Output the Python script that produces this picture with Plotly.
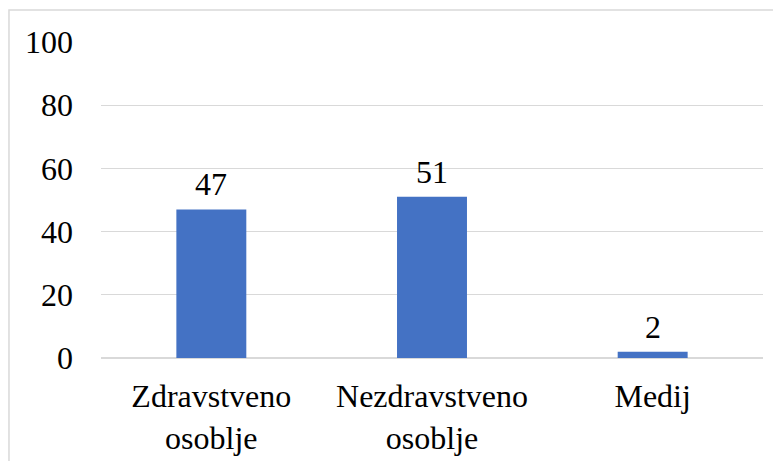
import plotly.graph_objects as go

# Chart data
categories = ["Zdravstveno<br>osoblje", "Nezdravstveno<br>osoblje", "Medij"]
values = [47, 51, 2]
y_ticks = [0, 20, 40, 60, 80, 100]

BAR_COLOR = "#4472C4"
GRID_COLOR = "#D9D9D9"
FONT = dict(family="Liberation Serif", size=32, color="black")

fig = go.Figure()

fig.add_trace(go.Bar(
    x=categories,
    y=values,
    marker=dict(color=BAR_COLOR, line=dict(width=0)),
    width=0.317,
    hoverinfo="x+y",
))

# value labels above the bars
for cat, val in zip(categories, values):
    fig.add_annotation(
        x=cat, y=val, text=str(val),
        showarrow=False, yanchor="bottom", yshift=5,
        font=FONT,
    )

# light chart-area border (cropped at right and bottom in the original)
fig.add_shape(
    type="rect", xref="paper", yref="paper",
    x0=-0.139, x1=2, y0=-2, y1=1.101,
    line=dict(color=GRID_COLOR, width=1.5),
    fillcolor="rgba(0,0,0,0)",
    layer="below",
)

fig.update_layout(
    width=781,
    height=461,
    margin=dict(l=93, r=26, t=34, b=111),
    plot_bgcolor="white",
    paper_bgcolor="white",
    font=FONT,
    showlegend=False,
)

fig.update_xaxes(
    showgrid=False,
    showline=False,
    ticks="",
    tickfont=FONT,
    ticklabelstandoff=16,
)

fig.update_yaxes(
    range=[0, 100],
    tickvals=y_ticks,
    showgrid=True,
    gridcolor=GRID_COLOR,
    gridwidth=1.3,
    zeroline=True,
    zerolinecolor=GRID_COLOR,
    zerolinewidth=1.5,
    showline=False,
    ticks="",
    tickfont=FONT,
    ticklabelstandoff=27,
)

fig.write_html("out.html")
